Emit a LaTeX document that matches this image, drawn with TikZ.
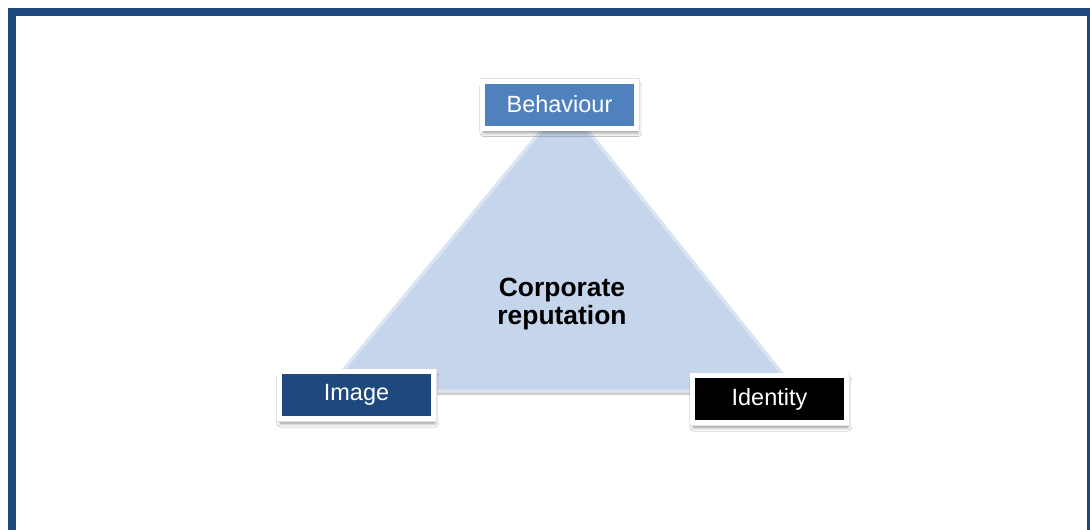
\documentclass[tikz,border=0pt]{standalone}
\usepackage{fontspec}
\setmainfont{Liberation Sans}
\usetikzlibrary{shadows.blur}
\definecolor{frameblue}{HTML}{1F497D}
\definecolor{midblue}{HTML}{4F81BD}
\definecolor{trifill}{HTML}{C5D5EB}
\definecolor{triedge}{HTML}{DAE4F2}
\begin{document}
\begin{tikzpicture}[x=0.75pt,y=-0.75pt,
  labelbox/.style={rectangle, draw=white, line width=3.75pt, minimum width=154*0.75pt, minimum height=47*0.75pt,
    inner sep=0pt, text=white, font=\fontsize{17.6pt}{20pt}\selectfont,
    blur shadow={shadow xshift=1pt, shadow yshift=-3.5pt, shadow blur radius=3pt, shadow blur steps=6, shadow opacity=45},
    preaction={draw=black!12, line width=4.5pt}},
  centertext/.style={align=center, font=\fontsize{19.8pt}{21pt}\selectfont\bfseries, text=black}
]
\useasboundingbox (0,0) rectangle (1090,529);
\fill[white] (0,0) rectangle (1090,529);
\begin{scope}
\clip (0,0) rectangle (1090,529);
\draw[frameblue, line width=6pt] (12,12) rectangle (1091,545);
\end{scope}
% triangle
\coordinate (apex) at (565,102);
\coordinate (bl) at (326,391);
\coordinate (br) at (796,391);
\fill[black!35, opacity=0.5] ([yshift=-3pt]apex) -- ([yshift=-3pt]bl) -- ([yshift=-3pt]br) -- cycle;
\filldraw[fill=trifill, draw=triedge, line width=2.5pt, line join=round] (apex) -- (bl) -- (br) -- cycle;
\node[centertext] (center) at (562,304) {Corporate\\reputation};
% boxes
\node[labelbox, fill=midblue] (behaviour) at (559.5,104.5) {Behaviour};
\node[labelbox, fill=frameblue] (image) at (356.5,395) {Image};
\node[labelbox, fill=black] (identity) at (769.5,399) {Identity};
\end{tikzpicture}
\end{document}
